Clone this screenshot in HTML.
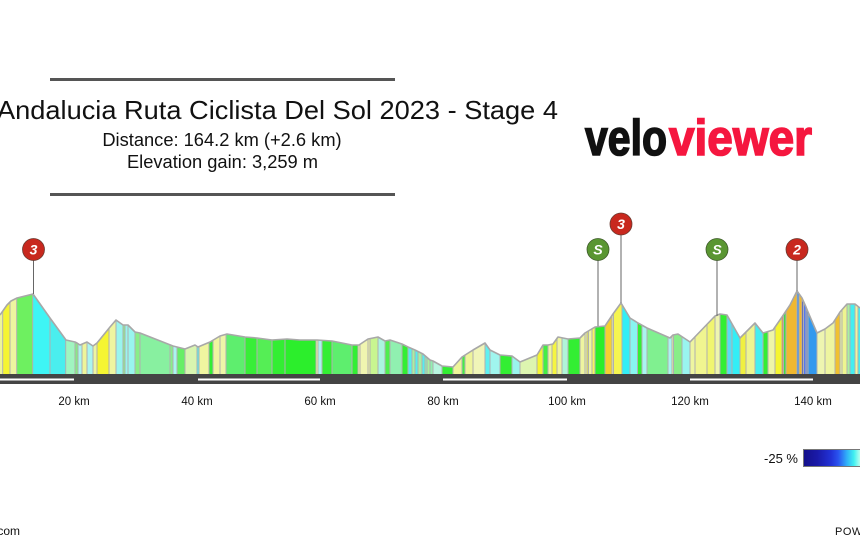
<!DOCTYPE html>
<html><head><meta charset="utf-8"><style>
html,body{margin:0;padding:0;background:#fff;}
svg{display:block;font-family:"Liberation Sans",Arial,sans-serif;}
</style></head><body>
<svg width="860" height="546" viewBox="0 0 860 546" xmlns="http://www.w3.org/2000/svg">
<defs>
<clipPath id="prof"><polygon points="0,315 7,305 11,301 17,298 33,294 50,318 66,340 75,342 77,343 80,345 87,342 93,346 97,343 110,327 116,320 123,325 128,325 135,332 140,333 173,346 185,349 195,345 198,347 210,342 220,336 227,334 245,337 257,338 272,340 287,339 300,340 317,340 332,341 352,345 359,345 368,339 378,337 385,341 390,340 402,344 408,347 415,350 423,354 430,360 433,361 442,366 453,367 462,357 473,350 485,343 490,350 500,355 512,356 520,362 537,355 543,345 548,345 553,344 558,337 568,339 580,338 585,333 595,327 605,326 613,314 621,303 630,318 638,323 647,328 670,338 673,335 678,334 690,342 715,316 720,314 727,315 740,338 755,323 763,333 773,330 782,317 790,305 797,291 802,298 806,307 808,312 817,333 825,329 833,323 840,312 847,304 855,304 860,308 860,374 0,374"/></clipPath>
<linearGradient id="lg" x1="0" x2="1" y1="0" y2="0">
<stop offset="0" stop-color="#14108a"/><stop offset="0.2" stop-color="#1a1aa8"/><stop offset="0.4" stop-color="#2233d8"/><stop offset="0.5" stop-color="#2a55f0"/><stop offset="0.62" stop-color="#30b0f8"/><stop offset="0.72" stop-color="#40f0f0"/><stop offset="0.8" stop-color="#b0fff0"/><stop offset="0.9" stop-color="#80f0a0"/><stop offset="1" stop-color="#40e040"/>
</linearGradient>
</defs>

<!-- header -->
<rect x="50" y="78" width="345" height="3" fill="#555"/>
<rect x="50" y="193" width="345" height="3" fill="#555"/>
<text x="-3" y="119" font-size="26" textLength="561" lengthAdjust="spacingAndGlyphs" fill="#111">Andalucia Ruta Ciclista Del Sol 2023 - Stage 4</text>
<text x="222" y="146" font-size="18.3" text-anchor="middle" fill="#111">Distance: 164.2 km (+2.6 km)</text>
<text x="222.5" y="168" font-size="18.3" text-anchor="middle" fill="#111">Elevation gain: 3,259 m</text>

<!-- logo -->
<text x="585" y="155" font-size="50" font-weight="bold" fill="#111" stroke="#111" stroke-width="1.6" textLength="82" lengthAdjust="spacingAndGlyphs">velo</text>
<text x="669" y="155" font-size="50" font-weight="bold" fill="#f5173f" stroke="#f5173f" stroke-width="1.6" textLength="143" lengthAdjust="spacingAndGlyphs">viewer</text>

<!-- profile stripes -->
<g clip-path="url(#prof)">
<rect x="0" y="280" width="2.7" height="95" fill="#eef59a"/>
<rect x="2.7" y="280" width="7.3" height="95" fill="#f5f532"/>
<rect x="10" y="280" width="6.7" height="95" fill="#eef5a0"/>
<rect x="16.7" y="280" width="16" height="95" fill="#6ef060"/>
<rect x="32.7" y="280" width="17.3" height="95" fill="#3ef5f5"/>
<rect x="50" y="280" width="15.7" height="95" fill="#4aeeee"/>
<rect x="65.7" y="280" width="9.3" height="95" fill="#a0f5c0"/>
<rect x="75" y="280" width="3" height="95" fill="#88e888"/>
<rect x="78" y="280" width="4" height="95" fill="#aaf5f0"/>
<rect x="82" y="280" width="5" height="95" fill="#eef59a"/>
<rect x="87" y="280" width="6" height="95" fill="#aaf5f0"/>
<rect x="93" y="280" width="4" height="95" fill="#eef5a0"/>
<rect x="97" y="280" width="12" height="95" fill="#f5f532"/>
<rect x="109" y="280" width="7" height="95" fill="#eef5a0"/>
<rect x="116" y="280" width="7" height="95" fill="#99f5ee"/>
<rect x="123" y="280" width="2" height="95" fill="#88ee88"/>
<rect x="125" y="280" width="10" height="95" fill="#99f5ee"/>
<rect x="135" y="280" width="5" height="95" fill="#88ee88"/>
<rect x="140" y="280" width="30" height="95" fill="#88f0a0"/>
<rect x="170" y="280" width="3" height="95" fill="#88ee88"/>
<rect x="173" y="280" width="4" height="95" fill="#aaf5f0"/>
<rect x="177" y="280" width="8" height="95" fill="#66ee66"/>
<rect x="185" y="280" width="12" height="95" fill="#d8f5b0"/>
<rect x="197" y="280" width="2" height="95" fill="#55eeee"/>
<rect x="199" y="280" width="10" height="95" fill="#f0f5a0"/>
<rect x="209" y="280" width="4" height="95" fill="#33ee33"/>
<rect x="213" y="280" width="7" height="95" fill="#f0f5a0"/>
<rect x="220" y="280" width="6" height="95" fill="#eef5a8"/>
<rect x="226" y="280" width="19" height="95" fill="#5eee6e"/>
<rect x="245" y="280" width="12" height="95" fill="#38ee38"/>
<rect x="257" y="280" width="15" height="95" fill="#55ee55"/>
<rect x="272" y="280" width="13" height="95" fill="#33ee33"/>
<rect x="285" y="280" width="31" height="95" fill="#2cee2c"/>
<rect x="316" y="280" width="2" height="95" fill="#eef5a0"/>
<rect x="318" y="280" width="4" height="95" fill="#aaf5f0"/>
<rect x="322" y="280" width="10" height="95" fill="#33ee33"/>
<rect x="332" y="280" width="20" height="95" fill="#5eee6e"/>
<rect x="352" y="280" width="6" height="95" fill="#33ee33"/>
<rect x="358" y="280" width="2" height="95" fill="#eef5a0"/>
<rect x="360" y="280" width="8" height="95" fill="#f0f5b0"/>
<rect x="368" y="280" width="2" height="95" fill="#eef5a0"/>
<rect x="370" y="280" width="8" height="95" fill="#c8f590"/>
<rect x="378" y="280" width="7" height="95" fill="#aaf5e0"/>
<rect x="385" y="280" width="5" height="95" fill="#4eee4e"/>
<rect x="390" y="280" width="12" height="95" fill="#90f0b0"/>
<rect x="402" y="280" width="6" height="95" fill="#33ee33"/>
<rect x="408" y="280" width="4" height="95" fill="#55eeee"/>
<rect x="412" y="280" width="3" height="95" fill="#a8f0a0"/>
<rect x="415" y="280" width="3" height="95" fill="#55eeee"/>
<rect x="418" y="280" width="4" height="95" fill="#a8f0a0"/>
<rect x="422" y="280" width="3" height="95" fill="#55eeee"/>
<rect x="425" y="280" width="2" height="95" fill="#90f0b0"/>
<rect x="427" y="280" width="3" height="95" fill="#a8f0a0"/>
<rect x="430" y="280" width="3" height="95" fill="#90f0b0"/>
<rect x="433" y="280" width="9" height="95" fill="#b8f5e0"/>
<rect x="442" y="280" width="11" height="95" fill="#33ee33"/>
<rect x="453" y="280" width="9" height="95" fill="#eef59a"/>
<rect x="462" y="280" width="3" height="95" fill="#44ee44"/>
<rect x="465" y="280" width="8" height="95" fill="#eef59a"/>
<rect x="473" y="280" width="12" height="95" fill="#f0f5b8"/>
<rect x="485" y="280" width="5" height="95" fill="#5ef0f0"/>
<rect x="490" y="280" width="10" height="95" fill="#a0f5ee"/>
<rect x="500" y="280" width="12" height="95" fill="#33ee33"/>
<rect x="512" y="280" width="8" height="95" fill="#99f5ee"/>
<rect x="520" y="280" width="17" height="95" fill="#ddf5b0"/>
<rect x="537" y="280" width="6" height="95" fill="#f5f532"/>
<rect x="543" y="280" width="5" height="95" fill="#44ee44"/>
<rect x="548" y="280" width="4" height="95" fill="#eef5a0"/>
<rect x="552" y="280" width="5" height="95" fill="#f5f540"/>
<rect x="557" y="280" width="5" height="95" fill="#eef5a0"/>
<rect x="562" y="280" width="6" height="95" fill="#b0f5d8"/>
<rect x="568" y="280" width="12" height="95" fill="#33ee33"/>
<rect x="580" y="280" width="7" height="95" fill="#eef5a0"/>
<rect x="587" y="280" width="1.5" height="95" fill="#f5f532"/>
<rect x="588.5" y="280" width="3.5" height="95" fill="#eef5a0"/>
<rect x="592" y="280" width="3" height="95" fill="#f5f560"/>
<rect x="595" y="280" width="10" height="95" fill="#2aee2a"/>
<rect x="605" y="280" width="7" height="95" fill="#f5d030"/>
<rect x="612" y="280" width="1.5" height="95" fill="#eef5a0"/>
<rect x="613.5" y="280" width="8.5" height="95" fill="#f5f550"/>
<rect x="622" y="280" width="8" height="95" fill="#33eef5"/>
<rect x="630" y="280" width="7.5" height="95" fill="#88f5f0"/>
<rect x="637.5" y="280" width="4.5" height="95" fill="#33ee33"/>
<rect x="642" y="280" width="5" height="95" fill="#aaf5f0"/>
<rect x="647" y="280" width="21" height="95" fill="#80f090"/>
<rect x="668" y="280" width="4" height="95" fill="#aaf5f0"/>
<rect x="672" y="280" width="1.5" height="95" fill="#eef5a0"/>
<rect x="673.5" y="280" width="8.5" height="95" fill="#88ee88"/>
<rect x="682" y="280" width="8" height="95" fill="#99f5f0"/>
<rect x="690" y="280" width="5" height="95" fill="#eef5a0"/>
<rect x="695" y="280" width="12" height="95" fill="#f0f590"/>
<rect x="707" y="280" width="8" height="95" fill="#f0f570"/>
<rect x="715" y="280" width="5" height="95" fill="#eef5b0"/>
<rect x="720" y="280" width="7" height="95" fill="#33ee33"/>
<rect x="727" y="280" width="5" height="95" fill="#55ddf5"/>
<rect x="732" y="280" width="8" height="95" fill="#33eef5"/>
<rect x="740" y="280" width="6" height="95" fill="#f0f040"/>
<rect x="746" y="280" width="9" height="95" fill="#eef590"/>
<rect x="755" y="280" width="8" height="95" fill="#44eef0"/>
<rect x="763" y="280" width="5" height="95" fill="#33ee33"/>
<rect x="768" y="280" width="7" height="95" fill="#eef5a8"/>
<rect x="775" y="280" width="7" height="95" fill="#f5f530"/>
<rect x="782" y="280" width="1.5" height="95" fill="#f08030"/>
<rect x="783.5" y="280" width="2.5" height="95" fill="#44dd44"/>
<rect x="786" y="280" width="11" height="95" fill="#f0b830"/>
<rect x="797" y="280" width="2" height="95" fill="#3388ee"/>
<rect x="799" y="280" width="3" height="95" fill="#f0b830"/>
<rect x="802" y="280" width="1.5" height="95" fill="#2233bb"/>
<rect x="803.5" y="280" width="2.5" height="95" fill="#5577ee"/>
<rect x="806" y="280" width="2" height="95" fill="#6688cc"/>
<rect x="808" y="280" width="9" height="95" fill="#3399ee"/>
<rect x="817" y="280" width="8" height="95" fill="#eef5b0"/>
<rect x="825" y="280" width="10" height="95" fill="#eef5a0"/>
<rect x="835" y="280" width="5" height="95" fill="#f0c030"/>
<rect x="840" y="280" width="2" height="95" fill="#eef5a0"/>
<rect x="842" y="280" width="5" height="95" fill="#eef590"/>
<rect x="847" y="280" width="3" height="95" fill="#a8f0a0"/>
<rect x="850" y="280" width="5" height="95" fill="#44eef0"/>
<rect x="855" y="280" width="3" height="95" fill="#eef5a0"/>
<rect x="858" y="280" width="2" height="95" fill="#44eef0"/>
<path stroke="#b0b0b0" stroke-width="1" fill="none" d="M2.7 280V374M10 280V374M16.7 280V374M32.7 280V374M50 280V374M65.7 280V374M75 280V374M78 280V374M82 280V374M87 280V374M93 280V374M97 280V374M109 280V374M116 280V374M123 280V374M125 280V374M128 280V374M135 280V374M140 280V374M170 280V374M173 280V374M177 280V374M185 280V374M197 280V374M199 280V374M209 280V374M213 280V374M220 280V374M226 280V374M245 280V374M257 280V374M272 280V374M285 280V374M316 280V374M318 280V374M322 280V374M332 280V374M352 280V374M358 280V374M360 280V374M368 280V374M370 280V374M378 280V374M385 280V374M390 280V374M402 280V374M408 280V374M412 280V374M415 280V374M418 280V374M422 280V374M425 280V374M427 280V374M430 280V374M433 280V374M442 280V374M453 280V374M462 280V374M465 280V374M473 280V374M485 280V374M490 280V374M500 280V374M512 280V374M520 280V374M537 280V374M543 280V374M548 280V374M552 280V374M557 280V374M562 280V374M568 280V374M580 280V374M585 280V374M587 280V374M588.5 280V374M592 280V374M595 280V374M605 280V374M612 280V374M613.5 280V374M622 280V374M630 280V374M637.5 280V374M642 280V374M647 280V374M668 280V374M672 280V374M673.5 280V374M682 280V374M690 280V374M695 280V374M707 280V374M715 280V374M720 280V374M727 280V374M732 280V374M740 280V374M746 280V374M755 280V374M763 280V374M768 280V374M775 280V374M782 280V374M783.5 280V374M786 280V374M797 280V374M799 280V374M802 280V374M803.5 280V374M806 280V374M808 280V374M817 280V374M825 280V374M835 280V374M840 280V374M842 280V374M847 280V374M850 280V374M855 280V374M858 280V374"/>
</g>
<polyline fill="none" stroke="#a8a8a8" stroke-width="1.6" stroke-linejoin="round" points="0,315 7,305 11,301 17,298 33,294 50,318 66,340 75,342 77,343 80,345 87,342 93,346 97,343 110,327 116,320 123,325 128,325 135,332 140,333 173,346 185,349 195,345 198,347 210,342 220,336 227,334 245,337 257,338 272,340 287,339 300,340 317,340 332,341 352,345 359,345 368,339 378,337 385,341 390,340 402,344 408,347 415,350 423,354 430,360 433,361 442,366 453,367 462,357 473,350 485,343 490,350 500,355 512,356 520,362 537,355 543,345 548,345 553,344 558,337 568,339 580,338 585,333 595,327 605,326 613,314 621,303 630,318 638,323 647,328 670,338 673,335 678,334 690,342 715,316 720,314 727,315 740,338 755,323 763,333 773,330 782,317 790,305 797,291 802,298 806,307 808,312 817,333 825,329 833,323 840,312 847,304 855,304 860,308"/>

<!-- axis bar -->
<rect x="0" y="374" width="860" height="10" fill="#444"/>
<rect x="0" y="378.5" width="74" height="2" fill="#fff"/>
<rect x="198" y="378.5" width="122" height="2" fill="#fff"/>
<rect x="443" y="378.5" width="124" height="2" fill="#fff"/>
<rect x="690" y="378.5" width="123" height="2" fill="#fff"/>

<g font-size="11.5" text-anchor="middle" fill="#111">
<text x="74" y="405">20 km</text>
<text x="197" y="405">40 km</text>
<text x="320" y="405">60 km</text>
<text x="443" y="405">80 km</text>
<text x="567" y="405">100 km</text>
<text x="690" y="405">120 km</text>
<text x="813" y="405">140 km</text>
</g>

<!-- markers -->
<g stroke="#666" stroke-width="1">
<line x1="33.5" y1="260" x2="33.5" y2="294"/>
<line x1="598" y1="260" x2="598" y2="326"/>
<line x1="621" y1="235" x2="621" y2="303"/>
<line x1="717" y1="260" x2="717" y2="316"/>
<line x1="797" y1="260" x2="797" y2="291"/>
</g>
<g stroke="#6a3a30" stroke-width="0.8">
<circle cx="33.5" cy="249.5" r="11" fill="#c8281e"/>
<circle cx="621" cy="224" r="11" fill="#c8281e"/>
<circle cx="797" cy="249.5" r="11" fill="#c8281e"/>
</g>
<g stroke="#3e5a2a" stroke-width="0.8">
<circle cx="598" cy="249.5" r="11" fill="#5a9632"/>
<circle cx="717" cy="249.5" r="11" fill="#5a9632"/>
</g>
<g font-size="14" font-weight="bold" font-style="italic" fill="#fff" text-anchor="middle">
<text x="33.5" y="254.5">3</text>
<text x="621" y="229">3</text>
<text x="797" y="254.5">2</text>
<text x="598" y="254.5">S</text>
<text x="717" y="254.5">S</text>
</g>

<!-- legend -->
<text x="798" y="463" font-size="13" text-anchor="end" fill="#111">-25 %</text>
<rect x="803.5" y="449.5" width="70" height="17" fill="url(#lg)" stroke="#777" stroke-width="1"/>

<text x="20" y="535" font-size="12" text-anchor="end" fill="#111">veloviewer.com</text>
<text x="835" y="535" font-size="11" fill="#111" letter-spacing="0.5">POWERED BY</text>
</svg>
</body></html>
